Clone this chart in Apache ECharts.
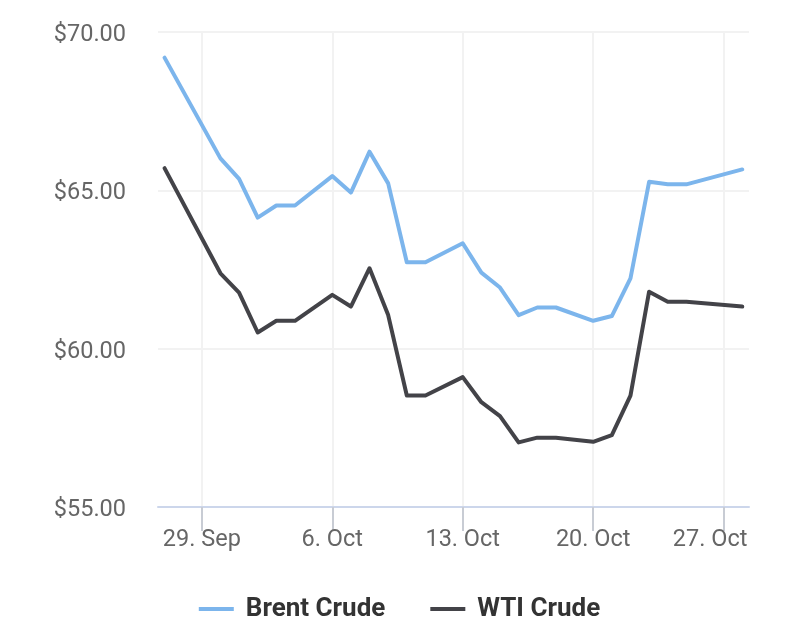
<!DOCTYPE html>
<html>
<head>
<meta charset="utf-8">
<script src="https://cdn.jsdelivr.net/npm/echarts@6/dist/echarts.min.js"></script>
<style>
html,body{margin:0;padding:0;background:#fff;}
#c{width:799px;height:644px;}
</style>
</head>
<body>
<div id="c"></div>
<script>
const dates = ['2025-09-27','2025-09-30','2025-10-01','2025-10-02','2025-10-03','2025-10-04',
  '2025-10-06','2025-10-07','2025-10-08','2025-10-09','2025-10-10','2025-10-11',
  '2025-10-13','2025-10-14','2025-10-15','2025-10-16','2025-10-17','2025-10-18',
  '2025-10-20','2025-10-21','2025-10-22','2025-10-23','2025-10-24','2025-10-25','2025-10-28'];
const brent = [69.19,66.01,65.36,64.14,64.52,64.52,65.45,64.93,66.22,65.22,62.73,62.73,
  63.33,62.40,61.93,61.06,61.30,61.30,60.88,61.03,62.22,65.27,65.19,65.19,65.66];
const wti = [65.70,62.38,61.77,60.51,60.88,60.88,61.70,61.33,62.54,61.06,58.52,58.52,
  59.10,58.31,57.87,57.04,57.19,57.19,57.06,57.27,58.52,61.80,61.48,61.48,61.33];
const tickDates = ['2025-09-29','2025-10-06','2025-10-13','2025-10-20','2025-10-27'];
const tickLabels = ['29. Sep','6. Oct','13. Oct','20. Oct','27. Oct'];

const DAY = 86400000;
const ts = d => new Date(d + 'T00:00:00Z').getTime();
const tickTs = tickDates.map(ts);
const labelOf = {};
tickTs.forEach((t, i) => { labelOf[t] = tickLabels[i]; });
const lastTick = tickTs[tickTs.length - 1];
const xMin = tickTs[0] - 2.35 * DAY;
const xMax = tickTs[0] + 29.36 * DAY;

const chart = echarts.init(document.getElementById('c'), null, {renderer: 'canvas'});
const FONT = 'Roboto';
const LFS = 23.5;
chart.setOption({
  animation: false,
  backgroundColor: '#ffffff',
  grid: {left: 158, right: 50, top: 32, bottom: 137, containLabel: false},
  xAxis: {
    type: 'value',
    min: xMin, max: xMax,
    axisLine: {show: true, lineStyle: {color: '#ccd6eb', width: 2}},
    axisTick: {show: true, length: 24, lineStyle: {color: '#c8ccd4', width: 2}, customValues: tickTs},
    axisLabel: {
      customValues: tickTs,
      margin: 21,
      color: '#666666', fontSize: LFS, fontFamily: FONT,
      formatter: v => v === lastTick ? '{r|' + labelOf[v] + '}' : (labelOf[v] || ''),
      rich: {r: {color: '#666666', fontSize: LFS, fontFamily: FONT, padding: [0, 27, 0, 0]}}
    },
    splitLine: {show: true, lineStyle: {color: '#f2f2f2', width: 2}}
  },
  yAxis: {
    type: 'value',
    min: 55, max: 70, interval: 5,
    axisLine: {show: false}, axisTick: {show: false},
    axisLabel: {
      margin: 32, color: '#666666', fontSize: LFS, fontFamily: FONT,
      verticalAlign: 'top', lineHeight: 6,
      formatter: v => '$' + v.toFixed(2)
    },
    splitLine: {show: true, lineStyle: {color: '#f2f2f2', width: 2}}
  },
  legend: {
    bottom: 17, left: 'center',
    icon: 'rect', itemWidth: 35, itemHeight: 4, itemGap: 45,
    textStyle: {color: '#333333', fontSize: 26, fontWeight: 'bold', fontFamily: FONT, padding: [0,0,0,7]},
    data: ['Brent Crude', 'WTI Crude']
  },
  series: [
    {
      name: 'Brent Crude', type: 'line', showSymbol: false, symbol: 'none',
      color: '#7cb5ec',
      lineStyle: {width: 4, color: '#7cb5ec', cap: 'round', join: 'round'},
      data: dates.map((d, i) => [ts(d), brent[i]])
    },
    {
      name: 'WTI Crude', type: 'line', showSymbol: false, symbol: 'none',
      color: '#434348',
      lineStyle: {width: 4, color: '#434348', cap: 'round', join: 'round'},
      data: dates.map((d, i) => [ts(d), wti[i]])
    }
  ]
});
</script>
</body>
</html>
